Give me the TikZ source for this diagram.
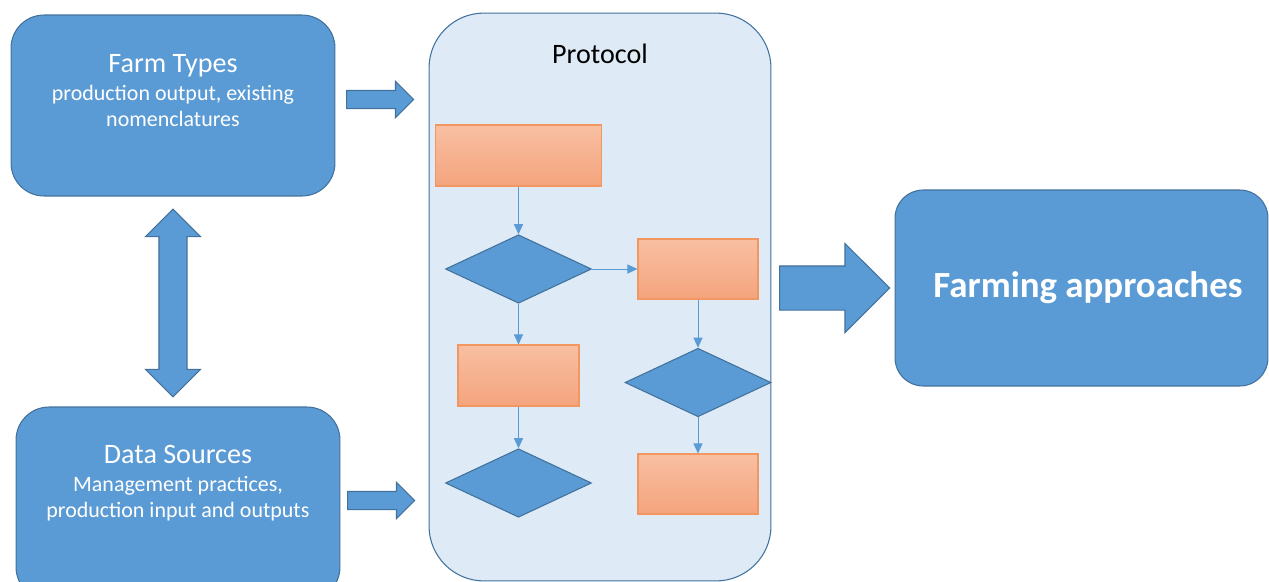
\documentclass[tikz,border=0pt]{standalone}
\usepackage{fontspec}
\setmainfont{Carlito}
\usetikzlibrary{shapes.geometric,shapes.arrows,arrows.meta}

\definecolor{boxblue}{RGB}{91,155,213}
\definecolor{edgeblue}{RGB}{65,113,156}
\definecolor{paleblue}{RGB}{222,234,246}
\definecolor{peachtop}{RGB}{248,191,162}
\definecolor{peachbot}{RGB}{244,164,125}
\definecolor{peachedge}{RGB}{242,150,98}

\tikzset{
  bigbox/.style={draw=edgeblue, fill=boxblue, line width=0.6pt, rounded corners=0.66cm, inner sep=0pt},
  task/.style={draw=peachedge, top color=peachtop, bottom color=peachbot, line width=0.6pt, inner sep=0pt},
  choice/.style={diamond, draw=edgeblue, fill=boxblue, line width=0.6pt, inner sep=0pt, aspect=2.1,
    minimum width=2.92cm, minimum height=1.37cm},
  push/.style={single arrow, draw=edgeblue, fill=boxblue, line width=0.6pt, inner sep=0pt, anchor=tail,
    single arrow tip angle=90, single arrow head indent=0pt},
  flow/.style={draw=boxblue, line width=0.5pt, -{Triangle[length=0.2cm,width=0.18cm]}},
  title/.style={font=\fontsize{16}{19}\selectfont, anchor=base},
  small/.style={font=\fontsize{12.5}{14.7}\selectfont, align=center, anchor=base}
}

\begin{document}
\begin{tikzpicture}[x=0.02cm,y=-0.02cm]
  \useasboundingbox (0,0) rectangle (1269,582);
  \draw
    (173,105.5) node[bigbox, minimum width=6.48cm, minimum height=3.62cm] (farm) {}
    (178,503.5) node[bigbox, minimum width=6.48cm, minimum height=3.86cm] (data) {}
    (600,297) node[bigbox, fill=paleblue, rounded corners=1.1cm, minimum width=6.84cm, minimum height=11.36cm] (protocol) {}
    (1081.5,288) node[bigbox, rounded corners=0.56cm, minimum width=7.46cm, minimum height=3.92cm] (approaches) {};
  \draw
    (346,99.5) node[push, inner ysep=0.17cm, minimum height=1.34cm, minimum width=0.7cm, single arrow head extend=0.18cm] (farmarrow) {}
    (347,500.5) node[push, inner ysep=0.17cm, minimum height=1.34cm, minimum width=0.7cm, single arrow head extend=0.18cm] (dataarrow) {}
    (779,288) node[push, inner ysep=0.43cm, minimum height=2.2cm, minimum width=1.76cm, single arrow head extend=0.45cm] (outarrow) {}
    (173,303) node[double arrow, draw=edgeblue, fill=boxblue, line width=0.6pt, inner sep=0pt, rotate=90,
      double arrow tip angle=90, double arrow head indent=0pt, inner ysep=0.27cm,
      minimum height=3.76cm, minimum width=1.08cm, double arrow head extend=0.27cm] (linkarrow) {};
  \draw
    (518.5,155.5) node[task, minimum width=3.32cm, minimum height=1.22cm] (t1) {}
    (698,269) node[task, minimum width=2.4cm, minimum height=1.2cm] (t2) {}
    (518.5,375.5) node[task, minimum width=2.42cm, minimum height=1.22cm] (t3) {}
    (698,484) node[task, minimum width=2.4cm, minimum height=1.2cm] (t4) {}
    (518.5,269) node[choice] (d1) {}
    (698,382.5) node[choice] (d2) {}
    (518.5,483) node[choice] (d3) {};
  \begin{scope}[flow]
    \draw (t1.south) to (d1.north);
    \draw (d1.east) to (t2.west);
    \draw (d1.south) to (t3.north);
    \draw (t3.south) to (d3.north);
    \draw (t2.south) to (d2.north);
    \draw (d2.south) to (t4.north);
  \end{scope}
  \node[title, white] (farmtitle) at (173,72) {Farm Types};
  \node[small, white] (farmnote) at (173,126) {production output, existing\\nomenclatures};
  \node[title, white] (datatitle) at (178,463) {Data Sources};
  \node[small, white] (datanote) at (178,517) {Management practices,\\production input and outputs};
  \node[title] (protocoltitle) at (600,63) {Protocol};
  \node[anchor=base, white, font=\fontsize{21}{25}\selectfont\bfseries] (approachtitle) at (1088,297) {Farming approaches};
\end{tikzpicture}
\end{document}
